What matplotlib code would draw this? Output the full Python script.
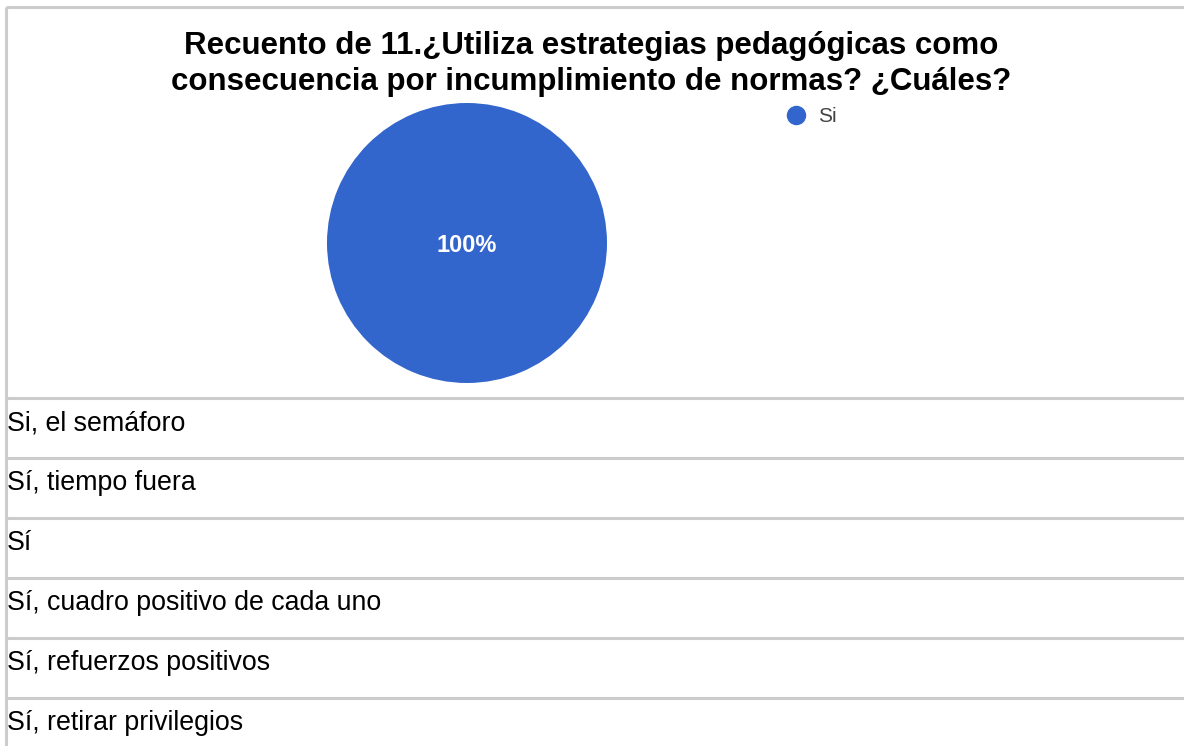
import matplotlib
matplotlib.use('Agg')
import matplotlib.pyplot as plt
from matplotlib.lines import Line2D

# Chart data
title = "Recuento de 11.¿Utiliza estrategias pedagógicas como\nconsecuencia por incumplimiento de normas? ¿Cuáles?"
categories = ["Si"]
counts = [6]
colors = ["#3366CC"]

# Answers listed under the chart
answers = [
    "Si, el semáforo",
    "Sí, tiempo fuera",
    "Sí",
    "Sí, cuadro positivo de cada uno",
    "Sí, refuerzos positivos",
    "Sí, retirar privilegios",
]

W, H = 1184, 746
plt.rcParams['font.family'] = ['Liberation Sans', 'DejaVu Sans']
fig = plt.figure(figsize=(W / 100, H / 100), dpi=100)

# Background axes in pixel coordinates (y going down) for the table
bg = fig.add_axes([0, 0, 1, 1])
bg.set_xlim(0, W)
bg.set_ylim(H, 0)
bg.axis('off')

line_color = '#CCCCCC'
top, chart_bottom, row_h = 6.5, 397.5, 60
bg.plot([5.5, 5.5], [top, H], color=line_color, lw=2.2, solid_capstyle='butt')
bg.plot([5.5, W], [top, top], color=line_color, lw=2.2, solid_capstyle='butt')
for i, text in enumerate(answers):
    y = chart_bottom + i * row_h
    bg.plot([5.5, W], [y, y], color=line_color, lw=2.2, solid_capstyle='butt')
    bg.text(7, y + row_h / 2 - 4, text, fontsize=19.3, color='#000000',
            ha='left', va='center')

bg.text(591, 64, title, fontsize=22.5, fontweight='bold', color='#000000',
        ha='center', va='center', linespacing=1.27)

# Pie chart
ax = fig.add_axes([327 / W, 1 - 383 / H, 280 / W, 280 / H])
wedges, _, autotexts = ax.pie(counts, colors=colors, startangle=90, counterclock=False,
                              autopct='%1.0f%%', pctdistance=0.0,
                              textprops=dict(color='white', fontsize=17, fontweight='bold'))
for t in autotexts:
    t.set_y(-0.02)
ax.set_xlim(-1, 1)
ax.set_ylim(-1, 1)
ax.set_aspect('equal')

handles = [Line2D([0], [0], marker='o', linestyle='', markersize=13,
                  markerfacecolor=c, markeredgecolor=c) for c in colors]
fig.legend(handles, categories, loc='center left', bbox_to_anchor=(783 / W, 1 - 117 / H),
           frameon=False, fontsize=15, labelcolor='#444444', handletextpad=0.5,
           borderaxespad=0, borderpad=0, handlelength=1.2)

fig.savefig('out.png', dpi=100)
